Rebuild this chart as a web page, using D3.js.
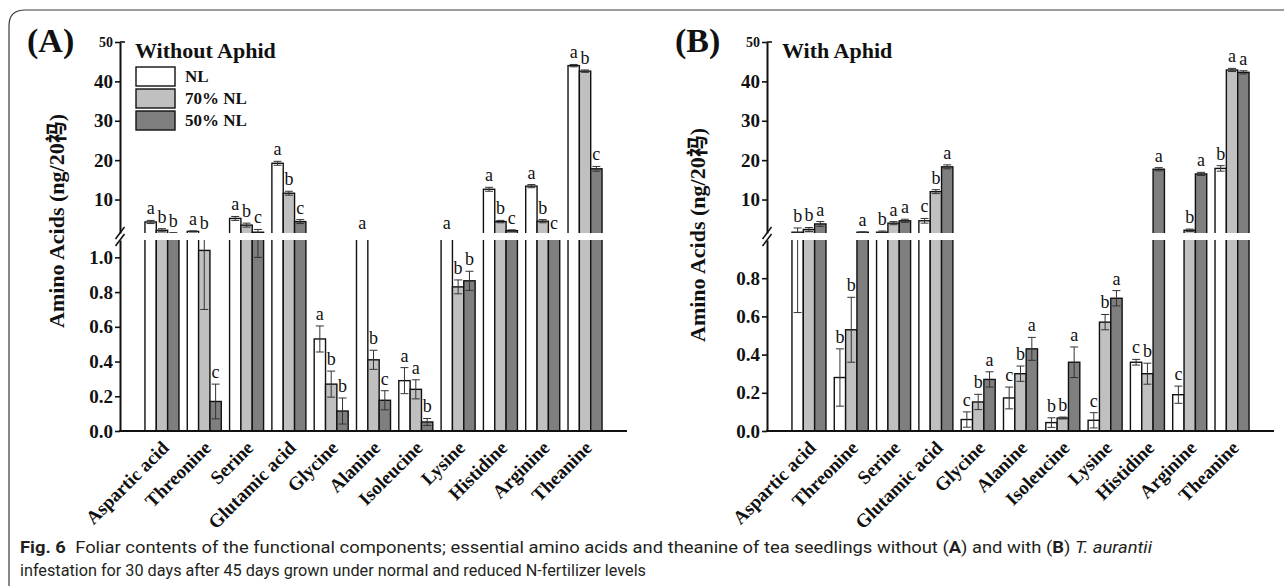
<!DOCTYPE html>
<html>
<head>
<meta charset="utf-8">
<script src="https://cdn.jsdelivr.net/npm/d3@7"></script>
<style>
  html, body { margin: 0; padding: 0; background: #fff; }
  svg { display: block; }
</style>
</head>
<body>
<svg id="chart" width="1284" height="586"></svg>
<script>
// ---- data -------------------------------------------------------------
const categories = ["Aspartic acid", "Threonine", "Serine", "Glutamic acid", "Glycine",
  "Alanine", "Isoleucine", "Lysine", "Histidine", "Arginine", "Theanine"];
const seriesNames = ["NL", "70% NL", "50% NL"];

const upperTicks = [10, 20, 30, 40, 50];
const lowerTicksA = [0, 0.2, 0.4, 0.6, 0.8, 1.0];
const lowerTicksB = [0, 0.2, 0.4, 0.6, 0.8];

// (A) without aphid
const withoutNL      = [4.3, 1.9, 5.2, 19.2, 0.53, 1.3, 0.29, 1.3, 12.6, 13.4, 44.0];
const withoutNL70    = [2.2, 1.04, 3.5, 11.6, 0.27, 0.41, 0.24, 0.83, 4.4, 4.5, 42.6];
const withoutNL50    = [1.4, 0.17, 1.7, 4.4, 0.115, 0.177, 0.052, 0.865, 2.1, 1.3, 17.8];
const withoutNLErr   = [0.4, 0.15, 0.5, 0.5, 0.075, 0.1, 0.075, 0.1, 0.5, 0.4, 0.3];
const withoutNL70Err = [0.4, 0.34, 0.5, 0.5, 0.075, 0.055, 0.055, 0.04, 0.3, 0.4, 0.3];
const withoutNL50Err = [0.2, 0.1, 0.7, 0.5, 0.075, 0.055, 0.02, 0.055, 0.2, 0.1, 0.6];
const withoutNLSig   = ["a", "a", "a", "a", "a", "a", "a", "a", "a", "a", "a"];
const withoutNL70Sig = ["b", "b", "b", "b", "b", "b", "a", "b", "b", "b", "b"];
const withoutNL50Sig = ["b", "c", "c", "c", "b", "c", "b", "b", "c", "c", "c"];

// (B) with aphid
const withNL      = [1.7, 0.28, 1.7, 4.6, 0.06, 0.173, 0.044, 0.056, 0.36, 0.19, 17.9];
const withNL70    = [2.4, 0.53, 4.0, 12.0, 0.152, 0.30, 0.068, 0.57, 0.30, 2.2, 42.9];
const withNL50    = [3.8, 1.7, 4.6, 18.3, 0.27, 0.43, 0.36, 0.695, 17.7, 16.5, 42.3];
const withNLErr   = [1.08, 0.15, 0.3, 0.6, 0.04, 0.057, 0.025, 0.04, 0.015, 0.045, 0.7];
const withNL70Err = [0.5, 0.17, 0.4, 0.5, 0.04, 0.04, 0.005, 0.04, 0.055, 0.3, 0.4];
const withNL50Err = [0.6, 0.1, 0.4, 0.5, 0.04, 0.06, 0.08, 0.04, 0.4, 0.4, 0.4];
const withNLSig   = ["b", "b", "b", "c", "c", "c", "b", "c", "c", "c", "b"];
const withNL70Sig = ["b", "b", "a", "b", "b", "b", "b", "b", "b", "b", "a"];
const withNL50Sig = ["a", "a", "a", "a", "a", "a", "a", "a", "a", "a", "a"];

// ---- layout -----------------------------------------------------------
const UP_TOP = 42, UP_BOTTOM = 233, LOW_TOP = 240, BASE = 431;
const UP_MIN = 1.5, UP_MAX = 50;
const fills = ["#ffffff", "#c0c0c0", "#7f7f7f"];
const SERIF = '"Liberation Serif", "Times New Roman", "Noto Sans CJK SC", serif';

const svg = d3.select("#chart");
svg.append("rect").attr("width", 1284).attr("height", 586).attr("fill", "#fff");

// figure frame (rounded top-left corner)
svg.append("path")
  .attr("d", "M9,586 V26 Q9,10 25,10 H1284")
  .attr("fill", "none").attr("stroke", "#3a3a3a").attr("stroke-width", 1.2);

function serifText(sel, size, bold) {
  return sel.style("font-family", SERIF)
    .style("font-size", size + "px")
    .style("font-weight", bold ? "bold" : "normal")
    .attr("fill", "#111");
}

function drawPanel(p) {
  const g = svg.append("g");
  const x = d3.scaleBand().domain(categories).range([p.x0, p.x1])
    .paddingInner(0.196).paddingOuter(0.59);
  const xs = d3.scaleBand().domain(seriesNames).range([0, x.bandwidth()]);
  // broken value axis: lower segment, gap, upper segment
  const y = d3.scaleLinear()
    .domain([0, p.lowMax, UP_MIN, UP_MAX])
    .range([BASE, LOW_TOP, UP_BOTTOM, UP_TOP])
    .clamp(true);

  const rows = [];
  categories.forEach((c, i) => seriesNames.forEach((s, j) => {
    rows.push({ c, s, j, v: p.values[j][i], e: p.errors[j][i], t: p.letters[j][i] });
  }));
  const cx = d => x(d.c) + xs(d.s) + xs.bandwidth() / 2;

  g.selectAll("rect.bar").data(rows).join("rect")
    .attr("class", "bar")
    .attr("x", d => x(d.c) + xs(d.s))
    .attr("y", d => y(d.v))
    .attr("width", xs.bandwidth())
    .attr("height", d => BASE - y(d.v))
    .attr("fill", d => fills[d.j])
    .attr("stroke", "#111").attr("stroke-width", 1.4);

  const eb = g.selectAll("g.err").data(rows).join("g").attr("class", "err")
    .attr("stroke", "#333").attr("stroke-width", 1);
  eb.append("line").attr("x1", cx).attr("x2", cx)
    .attr("y1", d => y(Math.max(0, d.v - d.e))).attr("y2", d => y(d.v + d.e));
  eb.append("line").attr("x1", d => cx(d) - 4).attr("x2", d => cx(d) + 4)
    .attr("y1", d => y(d.v + d.e)).attr("y2", d => y(d.v + d.e));
  eb.append("line").attr("x1", d => cx(d) - 4).attr("x2", d => cx(d) + 4)
    .attr("y1", d => y(Math.max(0, d.v - d.e))).attr("y2", d => y(Math.max(0, d.v - d.e)));

  // the break band cuts through bars and whiskers
  g.append("rect").attr("x", p.x0 + 1).attr("y", UP_BOTTOM)
    .attr("width", p.x1 - p.x0).attr("height", LOW_TOP - UP_BOTTOM).attr("fill", "#fff");

  // axes
  const yUp = d3.scaleLinear().domain([UP_MIN, UP_MAX]).range([UP_BOTTOM, UP_TOP]);
  const yLow = d3.scaleLinear().domain([0, p.lowMax]).range([BASE, LOW_TOP]);
  const styleAxis = (sel, size) => {
    sel.attr("font-family", null).attr("font-size", null);
    sel.select(".domain").attr("stroke", "#111").attr("stroke-width", 2);
    sel.selectAll(".tick line").attr("stroke", "#111").attr("stroke-width", 1.6);
    serifText(sel.selectAll(".tick text"), size, true);
  };
  const up = g.append("g").attr("transform", `translate(${p.x0},0)`)
    .call(d3.axisLeft(yUp).tickValues(upperTicks).tickSize(5).tickSizeOuter(0).tickPadding(2));
  styleAxis(up, 19);
  up.selectAll(".tick text").filter(d => d === UP_MAX).style("font-size", "14px");
  g.append("line").attr("x1", p.x0).attr("x2", p.x0 + 5)
    .attr("y1", yUp(UP_MAX)).attr("y2", yUp(UP_MAX)).attr("stroke", "#111").attr("stroke-width", 1.6);

  const low = g.append("g").attr("transform", `translate(${p.x0},0)`)
    .call(d3.axisLeft(yLow).tickValues(p.lowerTicks).tickSize(5).tickSizeOuter(0).tickPadding(2)
      .tickFormat(d3.format(".1f")));
  styleAxis(low, 19);

  g.append("line").attr("x1", p.x0 - 1).attr("x2", p.x1).attr("y1", BASE).attr("y2", BASE)
    .attr("stroke", "#111").attr("stroke-width", 2);

  // break marks on the value axis
  [UP_BOTTOM, LOW_TOP].forEach(yy => {
    g.append("line").attr("x1", p.x0 - 4.5).attr("x2", p.x0 + 4.5)
      .attr("y1", yy + 6).attr("y2", yy - 6).attr("stroke", "#111").attr("stroke-width", 1.5);
  });

  // significance letters
  serifText(g.selectAll("text.sig").data(rows).join("text").attr("class", "sig")
    .attr("x", cx).attr("y", d => y(d.v + d.e) - 6)
    .attr("text-anchor", "middle"), 18, false)
    .text(d => d.t);

  // category labels
  serifText(g.selectAll("text.cat").data(categories).join("text").attr("class", "cat")
    .attr("transform", c => `translate(${x(c) + x.bandwidth() / 2 + 8},${BASE + 18}) rotate(-45)`)
    .attr("text-anchor", "end"), 19, true)
    .text(c => c);

  // axis title
  serifText(g.append("text")
    .attr("transform", `translate(${p.titleX},${p.titleY}) rotate(-90)`)
    .attr("text-anchor", "middle"), 22, true)
    .text("Amino Acids (ng/20祃)");

  // panel tag and heading
  serifText(g.append("text").attr("x", p.tagX).attr("y", 52), 34, true).text(p.tag);
  serifText(g.append("text").attr("x", p.x0 + 15).attr("y", 58), 22, true).text(p.heading);

  if (p.legend) {
    const lg = g.append("g").attr("transform", `translate(${p.x0 + 16},67)`);
    seriesNames.forEach((s, j) => {
      lg.append("rect").attr("x", 0).attr("y", j * 22).attr("width", 39).attr("height", 19)
        .attr("fill", fills[j]).attr("stroke", "#111").attr("stroke-width", 1.4);
      serifText(lg.append("text").attr("x", 49).attr("y", j * 22 + 15), 17, true).text(s);
    });
  }
}

drawPanel({
  x0: 120, x1: 627, lowMax: 1.1, lowerTicks: lowerTicksA,
  values: [withoutNL, withoutNL70, withoutNL50],
  errors: [withoutNLErr, withoutNL70Err, withoutNL50Err],
  letters: [withoutNLSig, withoutNL70Sig, withoutNL50Sig],
  tag: "(A)", tagX: 27, heading: "Without Aphid", legend: true,
  titleX: 64, titleY: 221
});
drawPanel({
  x0: 767, x1: 1274, lowMax: 1.0, lowerTicks: lowerTicksB,
  values: [withNL, withNL70, withNL50],
  errors: [withNLErr, withNL70Err, withNL50Err],
  letters: [withNLSig, withNL70Sig, withNL50Sig],
  tag: "(B)", tagX: 675, heading: "With Aphid", legend: false,
  titleX: 705, titleY: 235
});

// caption
const CAP = '"Liberation Sans Narrow", "Roboto", "Liberation Sans", sans-serif';
const cap1 = svg.append("text").attr("x", 20).attr("y", 553)
  .attr("font-family", CAP).attr("font-size", 16).attr("fill", "#231f20")
  .attr("textLength", 1132).attr("lengthAdjust", "spacingAndGlyphs");
cap1.append("tspan").attr("font-weight", "bold").text("Fig. 6");
cap1.append("tspan").text("\u2002Foliar contents of the functional components; essential amino acids and theanine of tea seedlings without (");
cap1.append("tspan").attr("font-weight", "bold").text("A");
cap1.append("tspan").text(") and with (");
cap1.append("tspan").attr("font-weight", "bold").text("B");
cap1.append("tspan").text(") ");
cap1.append("tspan").attr("font-style", "italic").text("T. aurantii");
svg.append("text").attr("x", 20).attr("y", 576)
  .attr("font-family", CAP).attr("font-size", 16).attr("fill", "#231f20")
  .attr("textLength", 626).attr("lengthAdjust", "spacingAndGlyphs")
  .text("infestation for 30 days after 45 days grown under normal and reduced N-fertilizer levels");
</script>
</body>
</html>
